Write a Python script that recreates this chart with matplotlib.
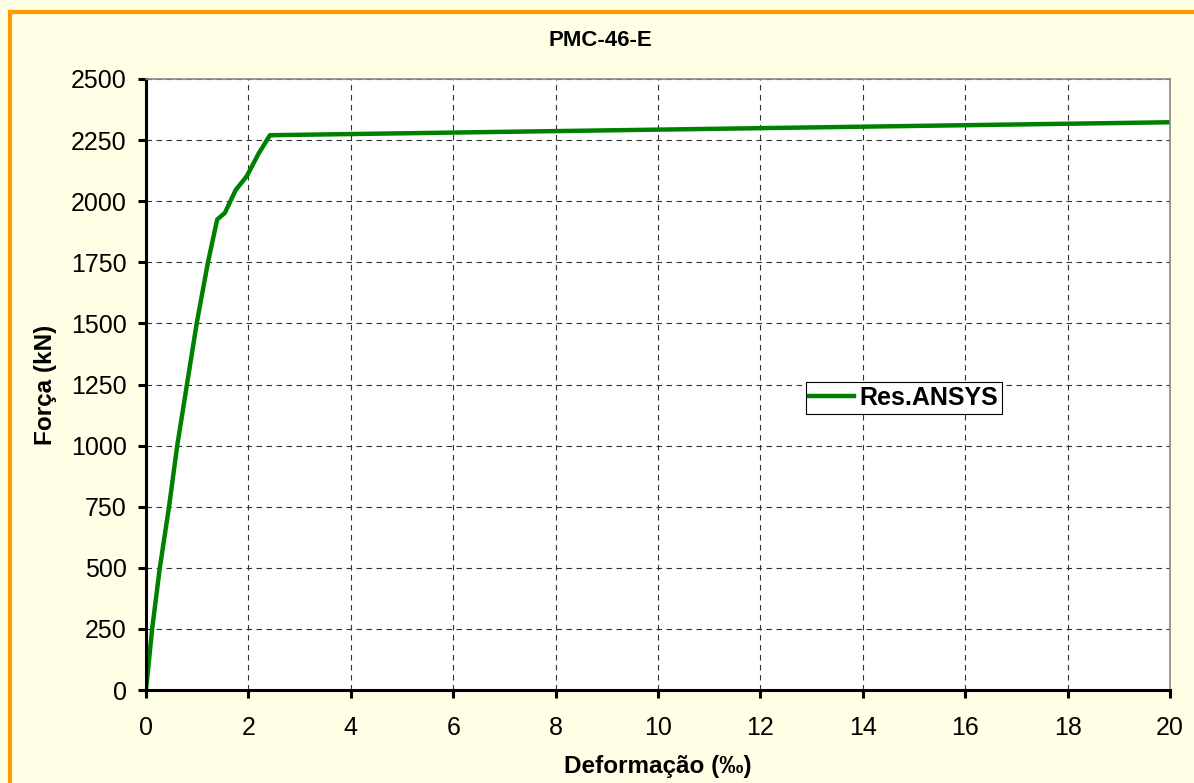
import numpy as np
import matplotlib
matplotlib.use('Agg')
import matplotlib.pyplot as plt
from matplotlib.patches import Rectangle

plt.rcParams['font.family'] = ['Liberation Sans', 'DejaVu Sans']

# deformation (per mille) and force (kN)
deform = [0, 0.12, 0.27, 0.45, 0.61, 0.80, 0.99, 1.21, 1.39, 1.54, 1.75, 1.97, 2.20, 2.42, 20.0]
force = [0, 250, 500, 750, 1000, 1250, 1500, 1750, 1925, 1952, 2045, 2103, 2195, 2270, 2323]

xticks = np.arange(0, 21, 2)
yticks = np.arange(0, 2501, 250)

title = 'PMC-46-E'
xlabel = 'Deformação (‰)'
ylabel = 'Força (kN)'
series_name = 'Res.ANSYS'

bg = '#FFFFE6'
fig = plt.figure(figsize=(11.94, 7.83), dpi=100, facecolor=bg)
ax = fig.add_axes([146/1194, 1-690/783, 1024/1194, 611/783])
ax.set_facecolor('white')

ax.plot(deform, force, color='#008000', lw=3.2, label=series_name, solid_joinstyle='round')

ax.set_xlim(0, 20)
ax.set_ylim(0, 2500)
ax.set_xticks(xticks)
ax.set_yticks(yticks)
ax.grid(True, color='#333333', ls=(0, (5, 4)), lw=0.8)
ax.set_axisbelow(True)

for s in ['top', 'right']:
    ax.spines[s].set_color('#888888')
    ax.spines[s].set_linewidth(1.2)
for s in ['left', 'bottom']:
    ax.spines[s].set_color('black')
    ax.spines[s].set_linewidth(2.2)
ax.tick_params(direction='out', length=6, width=2.2, labelsize=18)
ax.tick_params(axis='x', pad=13)
ax.tick_params(axis='y', pad=8)

# title is centred on the chart area, not on the axes
fig.text(600/1194, 1-40/783, title, fontsize=16, fontweight='bold', ha='center', va='center')
# x label sits right at the bottom edge
fig.text(658/1194, 1-767/783, xlabel, fontsize=17.5, fontweight='bold', ha='center', va='center')
ax.set_ylabel(ylabel, fontsize=17.5, fontweight='bold', labelpad=10)

leg = ax.legend(loc='center', bbox_to_anchor=(0.74, 0.478), fancybox=False,
                edgecolor='black', framealpha=1, fontsize=18, handlelength=1.8,
                handletextpad=0.2, borderpad=0.15, borderaxespad=0)
leg.get_frame().set_linewidth(0.8)
for t in leg.get_texts():
    t.set_fontweight('bold')

# orange outer border (right and bottom run off the image)
fig.patches.append(Rectangle((10/1194, -0.2), 1.5, 1.2 - 12/783, transform=fig.transFigure,
                             fill=False, edgecolor='#FF9900', lw=3.0, zorder=10))

fig.savefig('out.png', dpi=100, facecolor=bg)
